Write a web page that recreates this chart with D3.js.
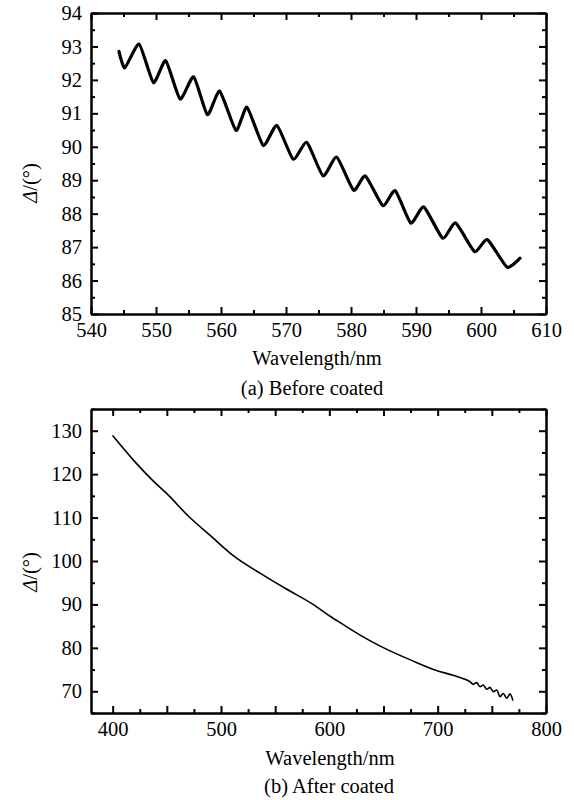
<!DOCTYPE html>
<html>
<head>
<meta charset="utf-8">
<script src="https://cdn.jsdelivr.net/npm/d3@7"></script>
<style>
    body { margin: 0; background: #fff; }
    .axis path, .axis line { stroke: #000; stroke-width: 2; }
    .line { fill: none; stroke: #000; stroke-linejoin: round; stroke-linecap: round; }
</style>
</head>
<body>
<div id="chart"></div>
<script>

// (a) before coated
var beforeWavelength = [544.3, 545.2, 547.4, 549.6, 551.5, 553.7, 555.8, 557.9, 559.8, 562.3,
    564.0, 566.5, 568.6, 571.1, 573.2, 575.7, 577.8, 580.4, 582.2, 584.9,
    586.8, 589.2, 591.2, 594.1, 596.1, 599.0, 601.0, 604.0, 606.0];
var beforeDelta = [92.85, 92.36, 93.07, 91.92, 92.57, 91.43, 92.09, 90.96, 91.66, 90.49,
    91.18, 90.04, 90.64, 89.63, 90.13, 89.13, 89.69, 88.70, 89.13, 88.24,
    88.69, 87.72, 88.20, 87.27, 87.72, 86.87, 87.22, 86.40, 86.67];
var beforeXTicks = [540, 550, 560, 570, 580, 590, 600, 610];
var beforeYTicks = [85, 86, 87, 88, 89, 90, 91, 92, 93, 94];

// (b) after coated
var afterWavelength = [400.3, 420, 440, 450, 470, 490, 511, 536, 560, 585,
    600, 610, 630, 647, 677, 699, 714, 723.7, 729.9, 732.9,
    736.0, 739.1, 742.1, 745.3, 748.3, 751.4, 754.5, 757.6, 760.6, 763.7,
    766.8, 769.3];
var afterDelta = [128.8, 123.0, 117.8, 115.5, 110.3, 105.9, 101.3, 97.2, 93.6, 90.0,
    87.4, 85.8, 82.7, 80.4, 77.0, 74.8, 73.7, 72.9, 72.2, 71.6,
    72.0, 71.05, 71.45, 70.46, 70.9, 69.9, 70.3, 68.76, 69.5, 68.4,
    69.4, 68.0];
var afterXTicks = [400, 500, 600, 700, 800];
var afterYTicks = [70, 80, 90, 100, 110, 120, 130];

var width = 574, height = 800
    , font = "'Liberation Serif', 'Times New Roman', serif"
    , fontSize = "20.5px";

var svg = d3.select("#chart").append("svg")
    .attr("width", width)
    .attr("height", height)
    .style("font-family", font);

svg.append("rect")
    .attr("width", width).attr("height", height)
    .attr("fill", "#fff");

function range(a, b, step) {
    return d3.range(a, b + step / 2, step);
}

function styleText(sel) {
    sel.style("font-family", font)
        .style("font-size", fontSize)
        .style("fill", "#000");
}

function panel(o) {
    var x = d3.scaleLinear().domain(o.xDomain).range([o.left, o.right]);
    var y = d3.scaleLinear().domain(o.yDomain).range([o.bottom, o.top]);
    var g = svg.append("g");

    var fmtX = function(d) { return o.xTicks.indexOf(d) >= 0 ? d : ""; };

    function axis(a, tr) {
        return g.append("g")
            .attr("class", "axis")
            .attr("transform", tr)
            .call(a);
    }

    var atBottom = "translate(0," + o.bottom + ")"
        , atTop = "translate(0," + o.top + ")"
        , atLeft = "translate(" + o.left + ",0)"
        , atRight = "translate(" + o.right + ",0)";

    // minor ticks, pointing inward
    axis(d3.axisBottom(x).tickValues(o.xMinor).tickSizeInner(-4).tickSizeOuter(0).tickFormat(""), atBottom);
    axis(d3.axisTop(x).tickValues(o.xMinor).tickSizeInner(-4).tickSizeOuter(0).tickFormat(""), atTop);
    axis(d3.axisLeft(y).tickValues(o.yMinor).tickSizeInner(-4).tickSizeOuter(0).tickFormat(""), atLeft);
    axis(d3.axisRight(y).tickValues(o.yMinor).tickSizeInner(-4).tickSizeOuter(0).tickFormat(""), atRight);

    // major ticks + labels
    var xb = axis(d3.axisBottom(x).tickValues(o.xMajor).tickSizeInner(-7).tickSizeOuter(0)
        .tickPadding(8.5).tickFormat(fmtX), atBottom);
    axis(d3.axisTop(x).tickValues(o.xMajor).tickSizeInner(-7).tickSizeOuter(0).tickFormat(""), atTop);
    var yl = axis(d3.axisLeft(y).tickValues(o.yTicks).tickSizeInner(-7).tickSizeOuter(0)
        .tickPadding(9).tickFormat(d3.format("d")), atLeft);
    axis(d3.axisRight(y).tickValues(o.yTicks).tickSizeInner(-7).tickSizeOuter(0).tickFormat(""), atRight);

    styleText(xb.selectAll("text"));
    styleText(yl.selectAll("text"));

    var line = d3.line()
        .x(function(d) { return x(d[0]); })
        .y(function(d) { return y(d[1]); })
        .curve(o.curve);

    g.append("path")
        .datum(d3.zip(o.xs, o.ys))
        .attr("class", "line")
        .attr("stroke-width", o.stroke)
        .attr("d", line);

    g.append("text")
        .attr("x", o.titleX).attr("y", o.titleY)
        .attr("text-anchor", "middle")
        .call(styleText)
        .text("Wavelength/nm");

    g.append("text")
        .attr("x", o.captionX).attr("y", o.captionY)
        .attr("text-anchor", "middle")
        .call(styleText)
        .text(o.caption);

    var ylab = g.append("text")
        .attr("text-anchor", "middle")
        .attr("transform", "translate(" + o.yLabelX + "," + o.yLabelY + ") rotate(-90)")
        .call(styleText);
    ylab.append("tspan").style("font-style", "italic").text("Δ");
    ylab.append("tspan").text("/(°)");
}

panel({
    left: 91, right: 546, top: 13, bottom: 314,
    xDomain: [540, 610], yDomain: [85, 94],
    xMajor: beforeXTicks, xTicks: beforeXTicks, xMinor: range(545, 605, 10),
    yTicks: beforeYTicks, yMinor: range(85.5, 93.5, 1),
    xs: beforeWavelength, ys: beforeDelta, stroke: 3.2,
    curve: d3.curveCardinal.tension(0.45),
    titleX: 317, titleY: 365,
    captionX: 312, captionY: 395, caption: "(a) Before coated",
    yLabelX: 37, yLabelY: 183
});

panel({
    left: 91, right: 546, top: 409, bottom: 713,
    xDomain: [380, 800], yDomain: [65, 135],
    xMajor: range(400, 800, 50), xTicks: afterXTicks, xMinor: range(425, 775, 50),
    yTicks: afterYTicks, yMinor: range(65, 135, 10),
    xs: afterWavelength, ys: afterDelta, stroke: 1.6,
    curve: d3.curveMonotoneX,
    titleX: 330, titleY: 765,
    captionX: 329, captionY: 793, caption: "(b) After coated",
    yLabelX: 37, yLabelY: 572
});

</script>
</body>
</html>
